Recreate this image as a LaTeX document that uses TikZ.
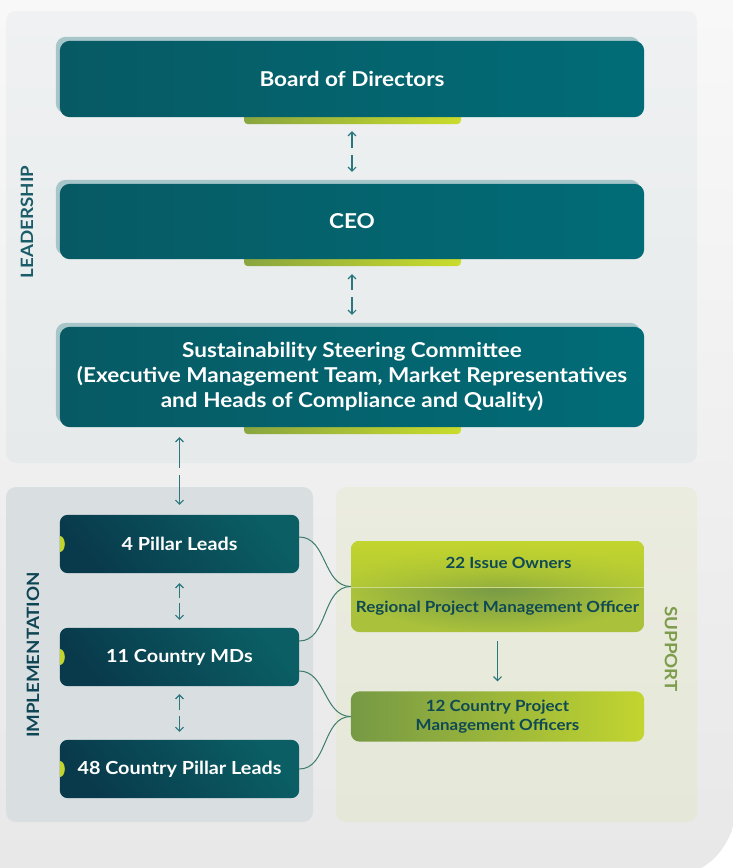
\documentclass[tikz,border=0pt]{standalone}
\usepackage{fontspec}
\setmainfont{Lato}[FakeStretch=1.1]
\usetikzlibrary{arrows.meta,calc,fadings}
\definecolor{pageA}{HTML}{F8F8F8}
\definecolor{pageB}{HTML}{E8E8E8}
\definecolor{leadA}{HTML}{EFF1F2}
\definecolor{leadB}{HTML}{E6EAEB}
\definecolor{implc}{HTML}{D9DEE0}
\definecolor{suppA}{HTML}{EBECE0}
\definecolor{suppB}{HTML}{E5E8D8}
\definecolor{boxL}{HTML}{075A64}
\definecolor{boxR}{HTML}{016C77}
\definecolor{shadowc}{HTML}{A7C6CA}
\definecolor{tabL}{HTML}{89A540}
\definecolor{tabR}{HTML}{CADC2C}
\definecolor{impD}{HTML}{093A4B}
\definecolor{impL}{HTML}{0A5E64}
\definecolor{limeA}{HTML}{C2D52F}
\definecolor{limeB}{HTML}{B3CA36}
\definecolor{oliveC}{HTML}{769945}
\definecolor{limeD}{HTML}{A9C13B}
\definecolor{darktxt}{HTML}{0F4954}
\definecolor{leadlbl}{HTML}{1A5C68}
\definecolor{impllbl}{HTML}{0F4655}
\definecolor{supplbl}{HTML}{7D9C4C}
\definecolor{curvec}{HTML}{3D7C6E}
\definecolor{arrc}{HTML}{2A777E}
\tikzset{
  leadbox/.style={minimum width=584pt, align=center, text=white, font=\bfseries\fontsize{20.5}{25}\selectfont, inner sep=0pt},
  implbox/.style={minimum width=239pt, minimum height=58pt, text=white, font=\bfseries\fontsize{18}{20}\selectfont, inner sep=0pt},
  suppbox/.style={minimum width=293pt, text=darktxt, align=center, font=\bfseries\fontsize{15.4}{18.5}\selectfont, inner sep=0pt},
  arr/.style={draw=arrc, line width=1.1pt, -{Straight Barb[length=4pt,width=8pt]}},
  conn/.style={draw=curvec, line width=1pt},
  sidelbl/.style={font=\bfseries\fontsize{17}{17}\selectfont, inner sep=0pt}
}
\begin{document}
\begin{tikzpicture}[x=1pt,y=-1pt]
\useasboundingbox (0,0) rectangle (733,868);
% page background
\fill[white] (0,0) rectangle (733,868);
\shade[top color=pageA, bottom color=pageB] (0,0) -- (733,0) -- (733,827) .. controls (727,845) and (716,860) .. (701,868) -- (0,868) -- cycle;
% panels
\shade[top color=leadA, bottom color=leadB, rounded corners=10pt] (6,11) rectangle (697,463);
\fill[implc, rounded corners=10pt] (6,487) rectangle (313,822);
\shade[top color=suppA, bottom color=suppB, rounded corners=10pt] (336,487) rectangle (697,822);

% leadership boxes
\node[leadbox, minimum height=76pt] (bod) at (352,79) {};
\node[leadbox, minimum height=75pt] (ceo) at (352,221.5) {};
\node[leadbox, minimum height=100pt] (ssc) at (352,377) {};
\foreach \b in {bod,ceo,ssc}{
  \shade[left color=tabL, right color=tabR, rounded corners=4pt] ([xshift=-108pt,yshift=8pt]\b.south) rectangle ([xshift=109pt,yshift=-7pt]\b.south);
  \fill[shadowc, rounded corners=10pt] ([shift={(-4pt,4pt)}]\b.south west) rectangle ([shift={(-4pt,4pt)}]\b.north east);
  \shade[left color=boxL, right color=boxR, rounded corners=10pt] (\b.south west) rectangle (\b.north east);
}
\node[leadbox] at (bod) {Board of Directors};
\node[leadbox] at (ceo) {CEO};
\node[leadbox] at (ssc) {Sustainability Steering Committee\\(Executive Management Team, Market Representatives\\and Heads of Compliance and Quality)};

% leadership arrows
\draw[arr] ([yshift=-31pt]bod.south) -- ([yshift=-14pt]bod.south);
\draw[arr] ([yshift=29pt]ceo.north) -- ([yshift=12pt]ceo.north);
\draw[arr] ([yshift=-31pt]ceo.south) -- ([yshift=-15pt]ceo.south);
\draw[arr] ([yshift=30pt]ssc.north) -- ([yshift=12pt]ssc.north);

% implementation boxes
\node[implbox] (pl) at (179.5,544) {};
\node[implbox] (md) at (179.5,657) {};
\node[implbox] (cpl) at (179.5,769) {};
\foreach \b in {pl,md,cpl}{
  \shade[top color=impL, bottom color=impD, shading angle=-50, rounded corners=8pt] (\b.south west) rectangle (\b.north east);
  \fill[limeA] ([yshift=8pt]\b.west) arc[start angle=90, end angle=-90, x radius=5pt, y radius=8pt] -- cycle;
}
\node[implbox] at (pl) {4 Pillar Leads};
\node[implbox] at (md) {11 Country MDs};
\node[implbox] at (cpl) {48 Country Pillar Leads};

\draw[arr] ([yshift=-41pt]pl.north |- ssc.south) -- ([yshift=-10pt]pl.north |- ssc.south);
\draw[arr] ([yshift=40pt]pl.north) -- ([yshift=10pt]pl.north);
\draw[arr] ([yshift=-25pt]pl.south) -- ([yshift=-10pt]pl.south);
\draw[arr] ([yshift=25pt]md.north) -- ([yshift=8pt]md.north);
\draw[arr] ([yshift=-24pt]md.south) -- ([yshift=-8pt]md.south);
\draw[arr] ([yshift=24pt]cpl.north) -- ([yshift=8pt]cpl.north);

% support boxes
\node[suppbox, minimum height=91pt] (sup1) at (497.5,586.5) {};
\begin{scope}
  \clip[rounded corners=9pt] (sup1.south west) rectangle (sup1.north east);
  \shade[inner color=oliveC, outer color=limeD] (351,541) rectangle (644,633);
  \fill[limeA, path fading=south] (351,541) rectangle (644,590);
  \fill[limeA, opacity=0.35] (351,541) rectangle (644,587);
  \draw[limeD!60!white, line width=0.8pt] (351,587) -- (644,587);
\end{scope}
\node[suppbox] (io) at (508.5,563) {22 Issue Owners};
\node[suppbox] (rp) at (497.5,608) {Regional Project Management Officer};
\node[suppbox, minimum height=50pt] (cpmo) at (497.5,716.5) {};
\shade[left color=oliveC, right color=limeA, rounded corners=9pt] (cpmo.south west) rectangle (cpmo.north east);
\node[suppbox] at (cpmo) {12 Country Project\\Management Officers};
\draw[arr] ([yshift=-9pt]sup1.south) -- ([yshift=10pt]cpmo.north);

% connectors
\draw[conn] ([yshift=7pt]pl.east) to[out=0,in=180] (sup1.west);
\draw[conn] ([yshift=16pt]md.east) to[out=0,in=180] (sup1.west);
\draw[conn] ([yshift=-14pt]md.east) to[out=0,in=180] (cpmo.west);
\draw[conn] (cpl.east) to[out=0,in=180] (cpmo.west);

% side labels
\node[sidelbl, text=leadlbl, rotate=90] (ll) at (27,222) {LEADERSHIP};
\node[sidelbl, text=impllbl, rotate=90] (il) at (33,655) {IMPLEMENTATION};
\node[sidelbl, text=supplbl, rotate=-90] (sl) at (671,649) {SUPPORT};
\end{tikzpicture}
\end{document}
